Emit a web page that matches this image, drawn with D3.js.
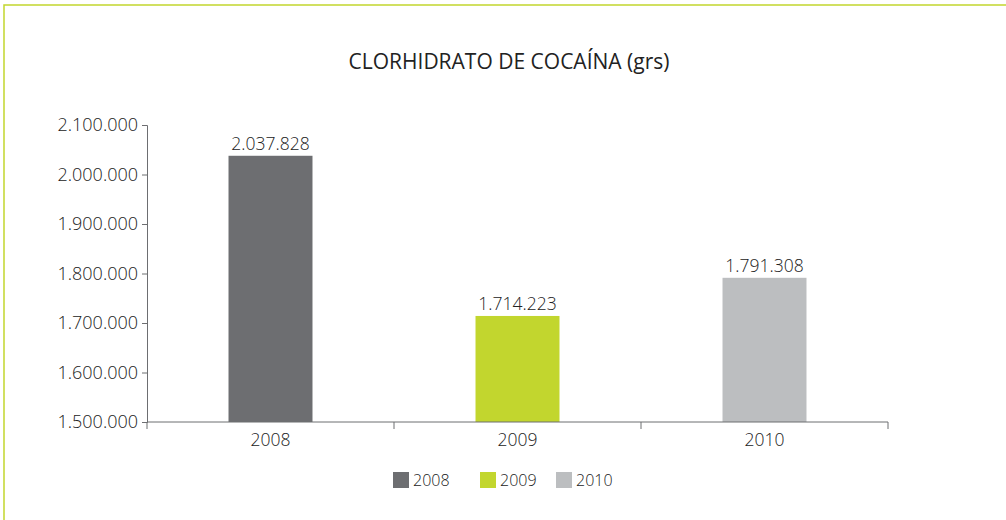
<!DOCTYPE html>
<html>
<head>
<meta charset="utf-8">
<script src="https://cdn.jsdelivr.net/npm/d3@7"></script>
<style>
  body { margin: 0; background: #fff; }
  text { font-family: "Open Sans", sans-serif; font-weight: 300; fill: #222; }
</style>
</head>
<body>
<script>
// -------------------- CLORHIDRATO DE COCAÍNA (grs) --------------------

let w = 1006
let h = 520

let years = ["2008", "2009", "2010"]
let values = [2037828, 1714223, 1791308]
let colors = ["#6d6e71", "#c2d62e", "#bcbec0"]
let yTicks = [1500000, 1600000, 1700000, 1800000, 1900000, 2000000, 2100000]

let locale = d3.formatLocale({ decimal: ",", thousands: ".", grouping: [3], currency: ["$", ""] })
let fmt = locale.format(",d")

let svg = d3.select("body")
    .append("svg")
    .attr("width", w)
    .attr("height", h)

// green frame, top and left only
svg.append("path")
    .attr("d", "M4,520 V5 H1006")
    .attr("fill", "none")
    .attr("stroke", "#c2d62e")
    .attr("stroke-width", 1.5)

svg.append("text")
    .attr("x", 509)
    .attr("y", 69)
    .attr("text-anchor", "middle")
    .attr("font-size", "21px")
    .style("font-weight", 400)
    .text("CLORHIDRATO DE COCAÍNA (grs)")

let x = d3.scaleBand()
    .domain(years)
    .range([147, 888])
    .paddingInner(0.66)
    .paddingOuter(0.33)

let y = d3.scaleLinear()
    .domain([1500000, 2100000])
    .range([422, 125])

// bars
svg.selectAll("rect.bar")
    .data(values)
    .enter()
    .append("rect")
        .attr("class", "bar")
        .attr("x", (d, i) => x(years[i]))
        .attr("y", d => y(d))
        .attr("width", x.bandwidth())
        .attr("height", d => y(1500000) - y(d))
        .attr("fill", (d, i) => colors[i])

// value labels
svg.selectAll("text.val")
    .data(values)
    .enter()
    .append("text")
        .attr("class", "val")
        .attr("x", (d, i) => x(years[i]) + x.bandwidth() / 2)
        .attr("y", d => y(d) - 6)
        .attr("text-anchor", "middle")
        .attr("font-size", "17.5px")
        .text(d => fmt(d))

// y axis
let yAxis = svg.append("g")
    .attr("transform", "translate(147,0)")
    .call(d3.axisLeft(y).tickValues(yTicks).tickFormat(fmt).tickSize(5).tickPadding(4))
yAxis.selectAll("path, line").attr("stroke", "#6d6e71")
yAxis.selectAll("text").attr("font-size", "18px").attr("fill", "#222").style("font-family", "'Open Sans', sans-serif")

// x axis (ticks at band edges)
let xg = svg.append("g").attr("transform", "translate(0,422)")
xg.append("line")
    .attr("x1", 147).attr("x2", 888)
    .attr("stroke", "#6d6e71")
let edges = [147].concat(years.map(d => x(d) - x.step() * x.paddingInner() / 2 + x.step()))
xg.selectAll("line.tk")
    .data(edges)
    .enter()
    .append("line")
        .attr("class", "tk")
        .attr("x1", d => d).attr("x2", d => d)
        .attr("y1", 0).attr("y2", 7)
        .attr("stroke", "#6d6e71")
xg.selectAll("text")
    .data(years)
    .enter()
    .append("text")
        .attr("x", d => x(d) + x.bandwidth() / 2)
        .attr("y", 24)
        .attr("text-anchor", "middle")
        .attr("font-size", "17.5px")
        .text(d => d)

// legend
let legX = [393, 480, 556]
let leg = svg.selectAll("g.leg")
    .data(years)
    .enter()
    .append("g")
        .attr("class", "leg")
        .attr("transform", (d, i) => `translate(${legX[i]},472)`)
leg.append("rect")
    .attr("width", 16).attr("height", 16)
    .attr("fill", (d, i) => colors[i])
leg.append("text")
    .attr("x", 20).attr("y", 14)
    .attr("font-size", "16px")
    .text(d => d)
</script>
</body>
</html>
